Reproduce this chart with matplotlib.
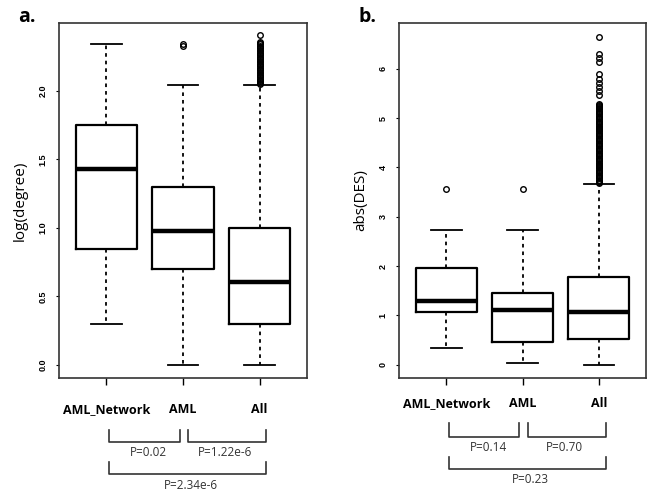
import matplotlib
matplotlib.use('Agg')
import matplotlib.pyplot as plt
from matplotlib.transforms import blended_transform_factory

groups = ['AML_Network', 'AML', 'All']

# panel a: log(degree)
deg_q1 = [0.845, 0.70, 0.30]
deg_med = [1.43, 0.98, 0.605]
deg_q3 = [1.75, 1.30, 1.00]
deg_lo = [0.30, 0.0, 0.0]
deg_hi = [2.34, 2.04, 2.04]
deg_out = [
    [],
    [2.33, 2.345],
    [2.05, 2.06, 2.07, 2.08, 2.09, 2.10, 2.11, 2.12, 2.13, 2.14, 2.15, 2.16,
     2.17, 2.18, 2.19, 2.20, 2.21, 2.22, 2.23, 2.24, 2.25, 2.26, 2.27, 2.28,
     2.29, 2.30, 2.31, 2.32, 2.33, 2.34, 2.35, 2.36, 2.41],
]
deg_p = [('P=0.02', 'P=1.22e-6'), 'P=2.34e-6']

# panel b: abs(DES)
des_q1 = [1.07, 0.47, 0.52]
des_med = [1.29, 1.10, 1.07]
des_q3 = [1.97, 1.46, 1.77]
des_lo = [0.34, 0.03, 0.0]
des_hi = [2.73, 2.73, 3.66]
des_out = [
    [3.57],
    [3.57],
    [3.68, 3.70, 3.73, 3.75, 3.78, 3.80, 3.83, 3.85, 3.88, 3.90, 3.93, 3.95,
     3.98, 4.00, 4.03, 4.05, 4.08, 4.10, 4.13, 4.15, 4.18, 4.20, 4.23, 4.25,
     4.28, 4.30, 4.33, 4.35, 4.38, 4.40, 4.43, 4.45, 4.48, 4.50, 4.53, 4.55,
     4.58, 4.60, 4.63, 4.65, 4.68, 4.70, 4.73, 4.75, 4.78, 4.80, 4.83, 4.85,
     4.88, 4.90, 4.93, 4.95, 4.98, 5.00, 5.03, 5.05, 5.08, 5.10, 5.13, 5.15,
     5.18, 5.20, 5.23, 5.25, 5.27, 5.29,
     5.46, 5.55, 5.63, 5.72, 5.80, 5.89, 6.13, 6.22, 6.30, 6.65],
]
des_p = [('P=0.14', 'P=0.70'), 'P=0.23']


def draw_panel(ax, q1, med, q3, lo, hi, out, yticks, ylim, ylabel, pvals, lab_pad, ys):
    stats = []
    for i in range(len(groups)):
        stats.append(dict(q1=q1[i], med=med[i], q3=q3[i], whislo=lo[i],
                          whishi=hi[i], fliers=out[i], label=groups[i]))
    ax.bxp(stats, positions=[1, 2, 3], widths=0.8,
           boxprops=dict(color='black', lw=1.6),
           medianprops=dict(color='black', lw=3.2),
           whiskerprops=dict(color='black', lw=1.3, linestyle=(0, (2, 2.2))),
           capprops=dict(color='black', lw=1.3),
           flierprops=dict(marker='o', markersize=4, markerfacecolor='none',
                           markeredgecolor='black', markeredgewidth=1.0))
    ax.set_xlim(0.38, 3.62)
    ax.set_ylim(*ylim)
    ax.set_yticks(yticks)
    ax.set_yticklabels([('%.1f' % t) if isinstance(t, float) else str(t) for t in yticks],
                       rotation=90, va='center', fontsize=6.5, fontweight='bold',
                       family='Liberation Sans')
    ax.tick_params(axis='y', length=2, width=0.8, pad=6)
    ax.tick_params(axis='x', length=5, width=1.0, pad=lab_pad)
    ax.set_xticklabels(groups, fontsize=9, fontweight='bold', family='Open Sans')
    ax.set_ylabel(ylabel, fontsize=11, family='Open Sans', labelpad=8)
    for s in ax.spines.values():
        s.set_linewidth(1.2)
        s.set_color('#333333')

    # comparison brackets below the axis
    tr = blended_transform_factory(ax.transData, ax.transAxes)
    top1, bot1, txt1, top2, bot2, txt2 = ys
    for x0, x1 in [(1.03, 1.96), (2.07, 3.09)]:
        ax.plot([x0, x0, x1, x1], [top1, bot1, bot1, top1], color='#333333',
                lw=1.2, transform=tr, clip_on=False)
    ax.plot([1.03, 1.03, 3.09, 3.09], [top2, bot2, bot2, top2], color='#333333',
            lw=1.2, transform=tr, clip_on=False)
    ax.text(1.55, txt1, pvals[0][0], transform=tr, ha='center', va='center',
            fontsize=8.5, color='#333333', family='Open Sans')
    ax.text(2.55, txt1, pvals[0][1], transform=tr, ha='center', va='center',
            fontsize=8.5, color='#333333', family='Open Sans')
    ax.text(2.1, txt2, pvals[1], transform=tr, ha='center', va='center',
            fontsize=8.5, color='#333333', family='Open Sans')


fig = plt.figure(figsize=(6.47, 4.93), dpi=100)
ax1 = fig.add_axes([0.0912, 0.2333, 0.3833, 0.72])
ax2 = fig.add_axes([0.6167, 0.2333, 0.3818, 0.72])

draw_panel(ax1, deg_q1, deg_med, deg_q3, deg_lo, deg_hi, deg_out,
           [0.0, 0.5, 1.0, 1.5, 2.0], (-0.096, 2.496), 'log(degree)', deg_p, 13,
           (-0.146, -0.179, -0.211, -0.236, -0.271, -0.303))
draw_panel(ax2, des_q1, des_med, des_q3, des_lo, des_hi, des_out,
           [0, 1, 2, 3, 4, 5, 6], (-0.27, 6.93), 'abs(DES)', des_p, 9,
           (-0.127, -0.165, -0.197, -0.222, -0.257, -0.285))

fig.text(27 / 647, 1 - 17 / 493, 'a.', fontsize=14, fontweight='bold',
         family='Open Sans', ha='center', va='center')
fig.text(367 / 647, 1 - 17 / 493, 'b.', fontsize=14, fontweight='bold',
         family='Open Sans', ha='center', va='center')

fig.savefig('out.png', dpi=100)
